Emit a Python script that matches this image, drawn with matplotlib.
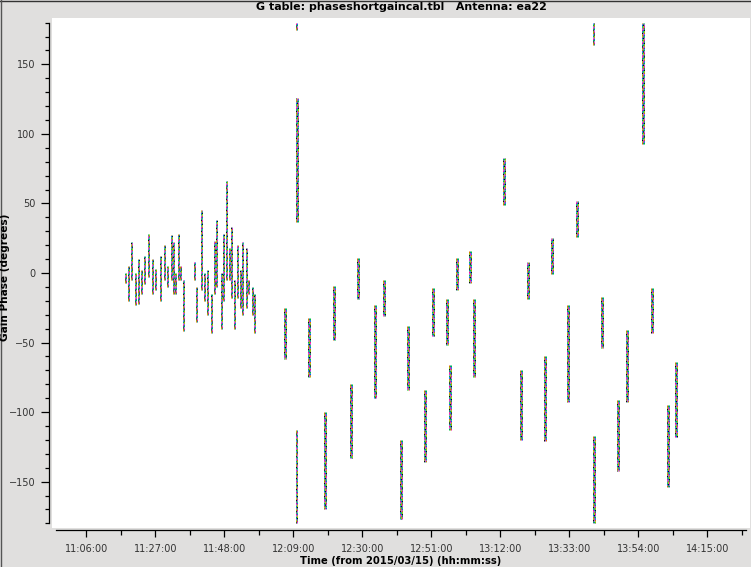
import matplotlib
matplotlib.use("Agg")
import matplotlib.pyplot as plt
from matplotlib.ticker import MultipleLocator, FuncFormatter
from matplotlib.lines import Line2D

plt.rcParams['font.family'] = ['DejaVu Sans']
plt.rcParams['lines.scale_dashes'] = False

# ---------------- data ----------------
# dense early section: time (hh:mm:ss), phase low / high (deg)
early_times = ["11:18:00", "11:18:50", "11:19:50", "11:20:50", "11:22:00", "11:22:40",
               "11:23:50", "11:25:00", "11:26:10", "11:27:00", "11:28:30", "11:29:40",
               "11:30:50", "11:31:50", "11:32:30", "11:33:10", "11:34:00", "11:34:40",
               "11:35:30",
               "11:39:00", "11:39:40", "11:41:10", "11:42:00", "11:43:00", "11:44:00",
               "11:45:00", "11:45:40", "11:47:00", "11:47:50", "11:48:40", "11:49:30",
               "11:50:20", "11:51:10", "11:52:00", "11:52:50", "11:53:40", "11:54:40",
               "11:55:30", "11:56:30", "11:57:10"]
early_lo = [-7, -20, -5, -23, -22, -15, -8, -3, -15, -12, -20, -5, -10, -5, -15, -15, -5, -5, -42,
            -5, -35, -12, -20, -30, -43, -15, -10, -40, -20, -5, -5, -18, -40, -18, -25, -30, -25,
            -15, -30, -43]
early_hi = [0, 5, 22, 0, 10, 2, 12, 28, 10, 3, 12, 20, 5, 27, 22, 0, 28, 5, -5,
            8, -10, 45, 0, 2, -15, 23, 38, 0, 28, 66, 18, 33, -5, 20, 2, 22, 18,
            -5, -10, -15]

# calibrator scans: time, phase low / high (deg)
scan_times = ["12:06:30", "12:10:00", "12:13:50", "12:18:40", "12:21:20", "12:26:30",
              "12:28:40", "12:33:50", "12:36:30", "12:41:50", "12:43:50", "12:49:00",
              "12:51:30", "12:55:50", "12:56:40", "12:58:50", "13:02:50", "13:04:00",
              "13:13:10", "13:18:10", "13:20:20", "13:25:40", "13:27:40", "13:32:40",
              "13:35:20", "13:40:30", "13:42:50", "13:47:50", "13:50:30", "13:55:20",
              "13:58:10", "14:03:10", "14:05:30"]
scan_lo = [-25, 37, -32, -100, -9, -80, 11, -23, -5, -120, -38, -84, -11, -19, -66, 11, 16,
           -19, 49, -70, -19, -60, -1, -23, 26, -117, -17, -91, -41, 93, -11, -95, -64]
scan_hi = [-62, 126, -75, -170, -48, -133, -19, -90, -31, -177, -84, -136, -45, -52, -113,
           -12, -7, -75, 83, -120, 8, -121, 25, -93, 52, -180, -54, -142, -93, 180, -43,
           -154, -118]

# sparse wrapped tails
tail_times = ["12:10:00", "12:10:00", "13:40:30"]
tail_lo = [-113, 175, 164]
tail_hi = [-180, 180, 180]

palette = ["#e07000", "#0060ff", "#00c040", "#a050e0", "#ff0090", "#009090",
           "#101010", "#80c000"]

# ---------------- figure ----------------
W, H = 751, 567
fig = plt.figure(figsize=(W / 100, H / 100), dpi=100, facecolor="#e0dfde")

def fx(px):
    return px / W

def fy(py):
    return 1 - py / H

ax = fig.add_axes([fx(52), fy(528), fx(750) - fx(52), fy(18) - fy(528)])
ax.set_facecolor("white")

def tmin(s):
    h, m, sec = [int(v) for v in s.split(":")]
    return h * 60 + m + sec / 60.0

x0_min = 666.0          # 11:06:00
ppm = 3.2857            # pixels per minute
ax.set_xlim(x0_min + (52 - 86.3) / ppm, x0_min + (750 - 86.3) / ppm)
ax.set_ylim(-183.3, 183.3)

def streak(t, lo, hi, cols, dx, seg, lw=1.0):
    n = len(palette)
    for ci, off in enumerate(cols):
        for k, c in enumerate(palette):
            ax.plot([t + off * dx, t + off * dx], [lo, hi], color=c, lw=lw * 0.72,
                    linestyle=((k + ci * 3) % n * seg, (seg, seg * (n - 1))),
                    solid_capstyle="butt", dash_capstyle="butt")

dx = 0.3
for t, lo, hi in zip(early_times, early_lo, early_hi):
    streak(tmin(t), lo, hi, [-0.5, 0.5], dx, 1.0)
for t, lo, hi in zip(scan_times, scan_lo, scan_hi):
    streak(tmin(t), lo, hi, [-1, 0, 1], dx, 1.2)
for t, lo, hi in zip(tail_times, tail_lo, tail_hi):
    streak(tmin(t), lo, hi, [-0.5, 0.5], dx, 1.0)

for s in ["top", "right"]:
    ax.spines[s].set_visible(False)
ax.spines["left"].set_position(("outward", 3 * 0.72))
ax.spines["left"].set_bounds(-180, 180)
ax.spines["bottom"].set_position(("outward", 2 * 0.72))
ax.spines["bottom"].set_bounds(x0_min + (56 - 86.3) / ppm, x0_min + (746 - 86.3) / ppm)
for s in ["left", "bottom"]:
    ax.spines[s].set_linewidth(0.9)

ax.yaxis.set_major_locator(MultipleLocator(50))
ax.yaxis.set_minor_locator(MultipleLocator(10))
ax.xaxis.set_major_locator(MultipleLocator(21, offset=666 % 21))
ax.xaxis.set_minor_locator(MultipleLocator(10.5, offset=666 % 10.5))

def fmt(v, pos):
    m = int(round(v))
    return "%02d:%02d:00" % (m // 60, m % 60)

ax.xaxis.set_major_formatter(FuncFormatter(fmt))
ax.tick_params(axis="both", which="major", labelsize=7, labelcolor="#333333", width=0.9)
ax.tick_params(axis="y", which="major", length=8 * 0.72, pad=4)
ax.tick_params(axis="y", which="minor", length=4 * 0.72, width=0.9)
ax.tick_params(axis="x", which="major", length=7 * 0.72, pad=5)
ax.tick_params(axis="x", which="minor", length=4.5 * 0.72, width=0.9)

fig.text(fx(401), fy(6.7), "G table: phaseshortgaincal.tbl   Antenna: ea22",
         ha="center", va="center", fontsize=7.9, fontweight="bold")
fig.text(fx(401), fy(561.5), "Time (from 2015/03/15) (hh:mm:ss)",
         ha="center", va="center", fontsize=7.2, fontweight="bold")
fig.text(fx(5.5), fy(277), "Gain Phase (degrees)", ha="center", va="center",
         rotation=90, fontsize=7.6, fontweight="bold")

# window frame
fig.add_artist(Line2D([0, 1], [fy(0.5), fy(0.5)], color="#333333", lw=1.0))
fig.add_artist(Line2D([fx(0.5), fx(0.5)], [0, 1], color="#555555", lw=1.0))

fig.savefig("out.png", dpi=100, facecolor=fig.get_facecolor())
